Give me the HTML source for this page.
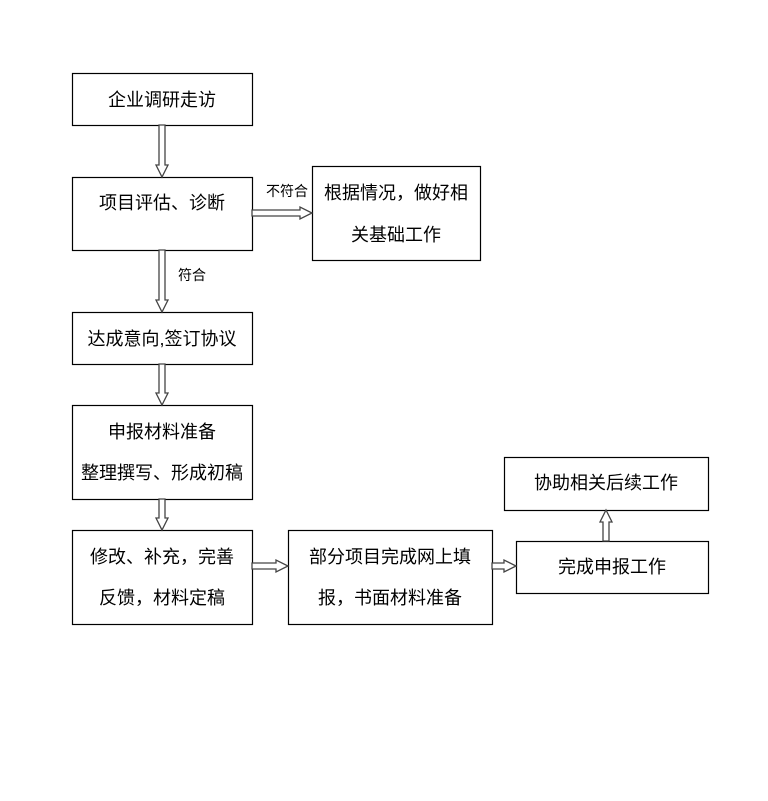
<!DOCTYPE html>
<html><head><meta charset="utf-8"><style>
html,body{margin:0;padding:0;background:#fff;}
svg{display:block;}
text{font-family:"Liberation Sans","Noto Sans CJK SC",sans-serif;fill:#000;}
.t{font-size:18px;text-anchor:middle;dominant-baseline:central;}
.s{font-size:14px;dominant-baseline:central;}
rect{fill:#fff;stroke:#000;stroke-width:1.2;}
.a{fill:#fff;stroke:#444;stroke-width:1.3;}
</style></head><body>
<svg width="768" height="801" viewBox="0 0 768 801">
<rect x="72.5" y="73.5" width="180" height="52"/>
<text class="t" x="162" y="100">企业调研走访</text>
<rect x="72.5" y="177.5" width="180" height="73"/>
<text class="t" x="162" y="203">项目评估、诊断</text>
<rect x="312.5" y="166.5" width="168" height="94"/>
<text class="t" x="396" y="193">根据情况，做好相</text>
<text class="t" x="396" y="235">关基础工作</text>
<rect x="72.5" y="312.5" width="180" height="52"/>
<text class="t" x="162" y="339">达成意向,签订协议</text>
<rect x="72.5" y="405.5" width="180" height="94"/>
<text class="t" x="162" y="432">申报材料准备</text>
<text class="t" x="162" y="473">整理撰写、形成初稿</text>
<rect x="72.5" y="530.5" width="180" height="94"/>
<text class="t" x="162" y="557">修改、补充，完善</text>
<text class="t" x="162" y="598">反馈，材料定稿</text>
<rect x="288.5" y="530.5" width="204" height="94"/>
<text class="t" x="390" y="557">部分项目完成网上填</text>
<text class="t" x="390" y="598">报，书面材料准备</text>
<rect x="516.5" y="541.5" width="192" height="52"/>
<text class="t" x="612" y="567">完成申报工作</text>
<rect x="504.5" y="457.5" width="204" height="53"/>
<text class="t" x="606" y="483">协助相关后续工作</text>
<!-- vertical down arrows at x=162 -->
<polygon class="a" points="159,125 165,125 165,165 168,165 162,177 156,165 159,165"/>
<polygon class="a" points="159,250 165,250 165,300 168,300 162,312 156,300 159,300"/>
<polygon class="a" points="159,364 165,364 165,393 168,393 162,405 156,393 159,393"/>
<polygon class="a" points="159,499 165,499 165,518 168,518 162,530 156,518 159,518"/>
<!-- horizontal -->
<polygon class="a" points="252,210 300,210 300,207 312,213 300,219 300,216 252,216"/>
<polygon class="a" points="252,563 276,563 276,560 288,566 276,572 276,569 252,569"/>
<polygon class="a" points="492,563 504,563 504,560 516,566 504,572 504,569 492,569"/>
<!-- up arrow -->
<polygon class="a" points="603,541 609,541 609,522 612,522 606,510 600,522 603,522"/>
<text class="s" x="266" y="191">不符合</text>
<text class="s" x="178" y="275">符合</text>
</svg>
</body></html>
